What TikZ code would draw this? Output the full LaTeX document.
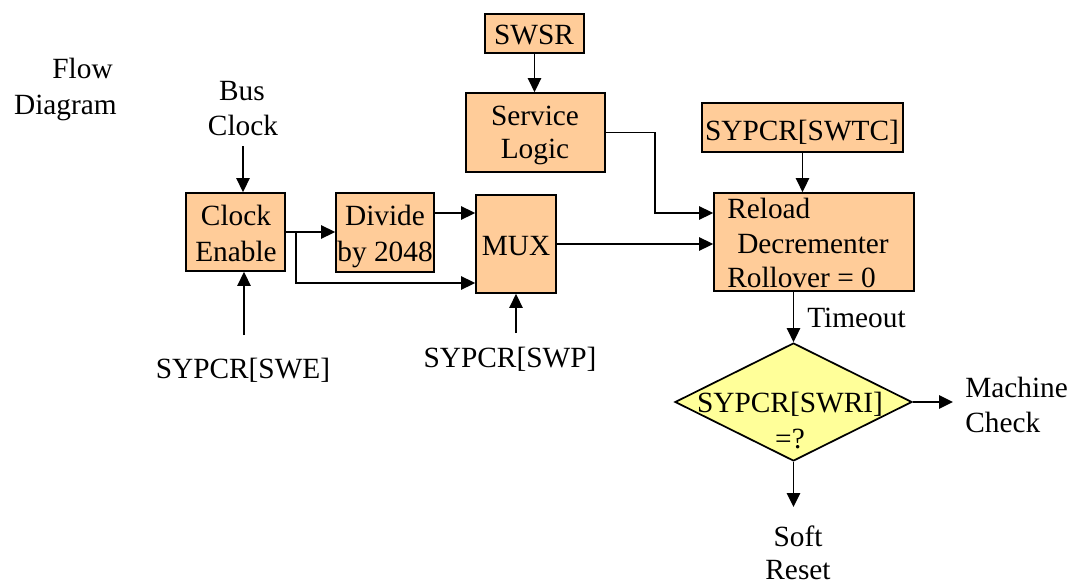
\documentclass[tikz,border=0pt]{standalone}
\usepackage{fontspec}
\setmainfont{Liberation Serif}
\usetikzlibrary{arrows.meta,shapes.geometric,calc}
\definecolor{peach}{HTML}{FFCC99}
\definecolor{paleyellow}{HTML}{FFFF99}
\begin{document}
\begin{tikzpicture}[x=0.75pt,y=-0.75pt,
  every node/.style={font=\fontsize{22}{26}\selectfont},
  blk/.style={draw=black, line width=1.3pt, fill=peach, inner sep=0pt},
  lbl/.style={anchor=base, inner sep=0pt},
  lbll/.style={anchor=base west, inner sep=0pt},
  lblr/.style={anchor=base east, inner sep=0pt},
  flow/.style={line width=1.3pt, -{Triangle[length=10.5pt,width=10pt]}}]
\useasboundingbox (0,0) rectangle (1071,585);

% title
\node[lblr] (t1) at (113,79) {Flow};
\node[lblr] (t2) at (117,114) {Diagram};

% blocks
\node[blk, minimum width=99*0.75pt, minimum height=78*0.75pt] (ce) at (235.5,232) {};
\node[lbl] (ce1) at (236,225.5) {Clock};
\node[lbl] (ce2) at (236,261) {Enable};

\node[blk, minimum width=98*0.75pt, minimum height=79*0.75pt] (dv) at (385,232.5) {};
\node[lbl] (dv1) at (385,225.5) {Divide};
\node[lbl] (dv2) at (385,261) {by 2048};

\node[blk, minimum width=80*0.75pt, minimum height=98*0.75pt] (mx) at (516,244) {};
\node[lbl] (mx1) at (516,255) {MUX};

\node[blk, minimum width=99*0.75pt, minimum height=39*0.75pt] (ss) at (534.5,33.5) {};
\node[lbl] (ss1) at (534,45) {SWSR};

\node[blk, minimum width=139*0.75pt, minimum height=79*0.75pt] (sl) at (535.5,132.5) {};
\node[lbl] (sl1) at (535,125) {Service};
\node[lbl] (sl2) at (535,158) {Logic};

\node[blk, minimum width=201*0.75pt, minimum height=49*0.75pt] (sw) at (802.5,127.5) {};
\node[lbl] (sw1) at (802,140) {SYPCR[SWTC]};

\node[blk, minimum width=200*0.75pt, minimum height=98*0.75pt] (rl) at (814,242) {};
\node[lbll] (rl1) at (727,218) {Reload};
\node[lbll] (rl2) at (737,253) {Decrementer};
\node[lbll] (rl3) at (727,287) {Rollover = 0};

\node[diamond, draw=black, line width=1.3pt, fill=paleyellow, inner sep=0pt,
      minimum width=237*0.75pt, minimum height=118*0.75pt] (dm) at (793.5,402) {};
\node[lbl] (dm1) at (790,412) {SYPCR[SWRI]};
\node[lbl] (dm2) at (790,448) {=?};

% free labels
\node[lbl] (bus1) at (242,101) {Bus};
\node[lbl] (bus2) at (243,135) {Clock};
\node[lbl] (swe) at (243,378) {SYPCR[SWE]};
\node[lbl] (swp) at (510,367) {SYPCR[SWP]};
\node[lbll] (to) at (807,327) {Timeout};
\node[lbll] (mc1) at (965,397) {Machine};
\node[lbll] (mc2) at (965,432) {Check};
\node[lbl] (sr1) at (798,546) {Soft};
\node[lbl] (sr2) at (798,579) {Reset};

% loose ends and bends of the connectors
\coordinate (busin) at (243,146);
\coordinate (swein) at (244,335);
\coordinate (swpin) at (516,333);
\coordinate (br) at (296,232);
\coordinate (mxhi) at ($(mx.west)+(0,-31)$);
\coordinate (mxlo) at ($(mx.west)+(0,39)$);
\coordinate (rlhi) at ($(rl.west)+(0,-29)$);
\coordinate (mcout) at (953,402);
\coordinate (srout) at (793.5,507);

% connectors
\draw[flow] (busin) -- (busin |- ce.north);
\draw[flow] (swein) -- (swein |- ce.south);
\draw[flow] (ce.east) -- (ce.east -| dv.west);
\draw[flow] (br) |- (mxlo);
\draw[flow] (mxhi -| dv.east) -- (mxhi);
\draw[flow] (swpin) -- (swpin |- mx.south);
\draw[flow] (ss.south) -- (ss.south |- sl.north);
\draw[flow] (sl.east) -- ++(49,0) |- (rlhi);
\draw[flow] (mx.east) -- (mx.east -| rl.west);
\draw[flow] (sw.south) -- (sw.south |- rl.north);
\draw[flow] (rl.south -| dm.north) -- (dm.north);
\draw[flow] (dm.east) -- (mcout);
\draw[flow] (dm.south) -- (srout);
\end{tikzpicture}
\end{document}
